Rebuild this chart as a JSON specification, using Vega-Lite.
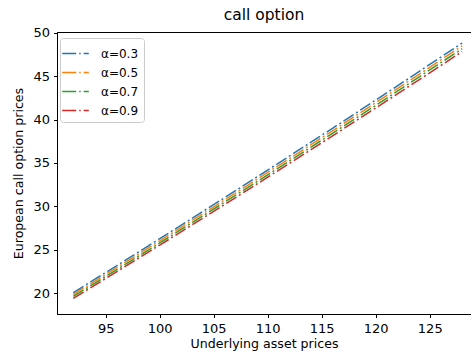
{
  "$schema": "https://vega.github.io/schema/vega-lite/v6.json",
  "width": 414,
  "height": 282,
  "autosize": {"type": "none"},
  "padding": {"left": 57, "top": 32, "right": 0, "bottom": 37},
  "background": "white",
  "title": {"text": "call option", "fontSize": 15.5, "font": "DejaVu Sans", "fontWeight": "normal", "color": "black", "offset": 3},
  "config": {
    "view": {"stroke": "black", "strokeWidth": 1},
    "axis": {
      "labelFont": "DejaVu Sans", "labelFontSize": 13, "labelColor": "black",
      "titleFont": "DejaVu Sans", "titleFontSize": 12.6, "titleFontWeight": "normal", "titleColor": "black",
      "domainColor": "black", "tickColor": "black", "tickSize": 3.5, "grid": false, "labelPadding": 4
    }
  },
  "data": {"values": [
    {"S": 92, "alpha": "α=0.3", "C": 20.05}, {"S": 92, "alpha": "α=0.5", "C": 19.83}, {"S": 92, "alpha": "α=0.7", "C": 19.61}, {"S": 92, "alpha": "α=0.9", "C": 19.39},
    {"S": 94, "alpha": "α=0.3", "C": 21.59}, {"S": 94, "alpha": "α=0.5", "C": 21.36}, {"S": 94, "alpha": "α=0.7", "C": 21.14}, {"S": 94, "alpha": "α=0.9", "C": 20.91},
    {"S": 96, "alpha": "α=0.3", "C": 23.14}, {"S": 96, "alpha": "α=0.5", "C": 22.91}, {"S": 96, "alpha": "α=0.7", "C": 22.68}, {"S": 96, "alpha": "α=0.9", "C": 22.44},
    {"S": 98, "alpha": "α=0.3", "C": 24.70}, {"S": 98, "alpha": "α=0.5", "C": 24.46}, {"S": 98, "alpha": "α=0.7", "C": 24.22}, {"S": 98, "alpha": "α=0.9", "C": 23.99},
    {"S": 100, "alpha": "α=0.3", "C": 26.26}, {"S": 100, "alpha": "α=0.5", "C": 26.02}, {"S": 100, "alpha": "α=0.7", "C": 25.77}, {"S": 100, "alpha": "α=0.9", "C": 25.53},
    {"S": 102, "alpha": "α=0.3", "C": 27.83}, {"S": 102, "alpha": "α=0.5", "C": 27.58}, {"S": 102, "alpha": "α=0.7", "C": 27.33}, {"S": 102, "alpha": "α=0.9", "C": 27.08},
    {"S": 104, "alpha": "α=0.3", "C": 29.41}, {"S": 104, "alpha": "α=0.5", "C": 29.15}, {"S": 104, "alpha": "α=0.7", "C": 28.90}, {"S": 104, "alpha": "α=0.9", "C": 28.64},
    {"S": 106, "alpha": "α=0.3", "C": 30.99}, {"S": 106, "alpha": "α=0.5", "C": 30.73}, {"S": 106, "alpha": "α=0.7", "C": 30.47}, {"S": 106, "alpha": "α=0.9", "C": 30.20},
    {"S": 108, "alpha": "α=0.3", "C": 32.58}, {"S": 108, "alpha": "α=0.5", "C": 32.31}, {"S": 108, "alpha": "α=0.7", "C": 32.04}, {"S": 108, "alpha": "α=0.9", "C": 31.78},
    {"S": 110, "alpha": "α=0.3", "C": 34.18}, {"S": 110, "alpha": "α=0.5", "C": 33.91}, {"S": 110, "alpha": "α=0.7", "C": 33.63}, {"S": 110, "alpha": "α=0.9", "C": 33.36},
    {"S": 112, "alpha": "α=0.3", "C": 35.78}, {"S": 112, "alpha": "α=0.5", "C": 35.50}, {"S": 112, "alpha": "α=0.7", "C": 35.22}, {"S": 112, "alpha": "α=0.9", "C": 34.94},
    {"S": 114, "alpha": "α=0.3", "C": 37.39}, {"S": 114, "alpha": "α=0.5", "C": 37.10}, {"S": 114, "alpha": "α=0.7", "C": 36.82}, {"S": 114, "alpha": "α=0.9", "C": 36.53},
    {"S": 116, "alpha": "α=0.3", "C": 39.00}, {"S": 116, "alpha": "α=0.5", "C": 38.71}, {"S": 116, "alpha": "α=0.7", "C": 38.42}, {"S": 116, "alpha": "α=0.9", "C": 38.12},
    {"S": 118, "alpha": "α=0.3", "C": 40.62}, {"S": 118, "alpha": "α=0.5", "C": 40.32}, {"S": 118, "alpha": "α=0.7", "C": 40.02}, {"S": 118, "alpha": "α=0.9", "C": 39.73},
    {"S": 120, "alpha": "α=0.3", "C": 42.25}, {"S": 120, "alpha": "α=0.5", "C": 41.95}, {"S": 120, "alpha": "α=0.7", "C": 41.64}, {"S": 120, "alpha": "α=0.9", "C": 41.34},
    {"S": 122, "alpha": "α=0.3", "C": 43.89}, {"S": 122, "alpha": "α=0.5", "C": 43.58}, {"S": 122, "alpha": "α=0.7", "C": 43.27}, {"S": 122, "alpha": "α=0.9", "C": 42.96},
    {"S": 124, "alpha": "α=0.3", "C": 45.53}, {"S": 124, "alpha": "α=0.5", "C": 45.21}, {"S": 124, "alpha": "α=0.7", "C": 44.90}, {"S": 124, "alpha": "α=0.9", "C": 44.58},
    {"S": 126, "alpha": "α=0.3", "C": 47.18}, {"S": 126, "alpha": "α=0.5", "C": 46.86}, {"S": 126, "alpha": "α=0.7", "C": 46.54}, {"S": 126, "alpha": "α=0.9", "C": 46.21},
    {"S": 128, "alpha": "α=0.3", "C": 48.83}, {"S": 128, "alpha": "α=0.5", "C": 48.50}, {"S": 128, "alpha": "α=0.7", "C": 48.17}, {"S": 128, "alpha": "α=0.9", "C": 47.85}
  ]},
  "mark": {"type": "line", "strokeWidth": 1.5, "strokeDash": [12, 3, 2, 3], "clip": true},
  "encoding": {
    "x": {
      "field": "S", "type": "quantitative",
      "scale": {"domain": [90.49, 128.82], "nice": false, "zero": false},
      "axis": {"values": [95, 100, 105, 110, 115, 120, 125], "title": "Underlying asset prices", "titlePadding": 2, "labelPadding": 5}
    },
    "y": {
      "field": "C", "type": "quantitative",
      "scale": {"domain": [17.58, 50.1], "nice": false, "zero": false},
      "axis": {"values": [20, 25, 30, 35, 40, 45, 50], "title": "European call option prices", "titlePadding": 7}
    },
    "color": {
      "field": "alpha", "type": "nominal",
      "scale": {"domain": ["α=0.3", "α=0.5", "α=0.7", "α=0.9"], "range": ["#1f77b4", "#ff7f0e", "#2ca02c", "#d62728"]},
      "legend": {
        "orient": "none", "legendX": 3, "legendY": 6, "title": null,
        "symbolType": "M-1.4,0H1.4", "symbolSize": 361, "symbolStrokeWidth": 1.5, "symbolDash": [14, 3, 1.5, 3], "symbolFillColor": "transparent",
        "labelFont": "DejaVu Sans", "labelFontSize": 12, "labelColor": "black", "labelOffset": 15,
        "strokeColor": "#cccccc", "fillColor": "white", "padding": 5, "cornerRadius": 3, "rowPadding": 2
      }
    }
  }
}
